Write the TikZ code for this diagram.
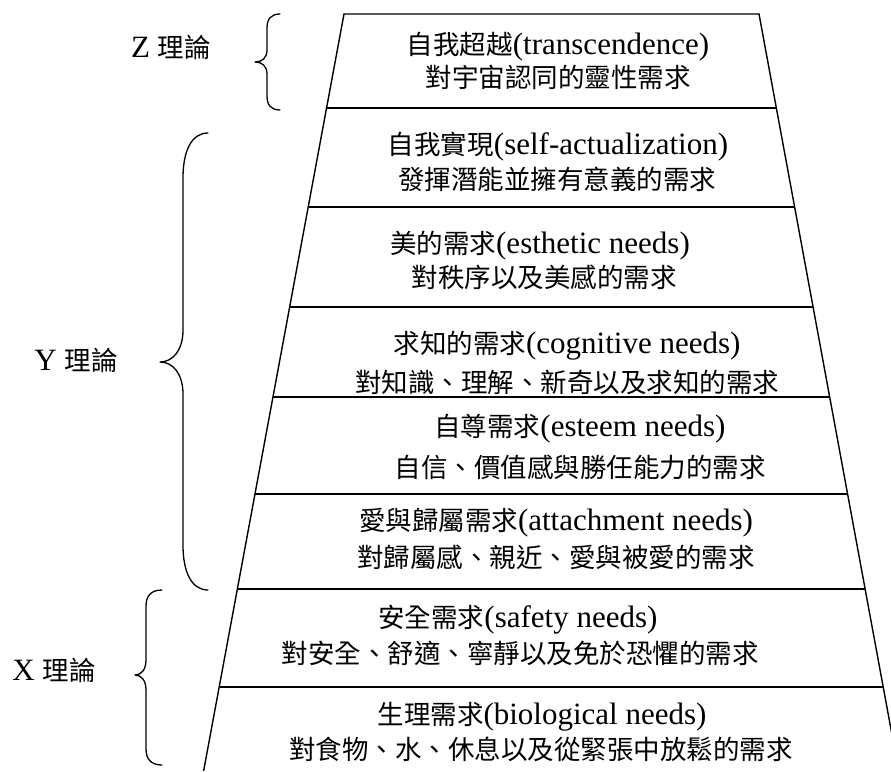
\documentclass[tikz,border=0pt]{standalone}
\usepackage{fontspec}
\setmainfont{Liberation Serif}[Scale=1.17]
\newfontfamily\cjkfont{Noto Sans CJK TC}
\newcommand\zht[1]{{\cjkfont #1}}
\begin{document}
\begin{tikzpicture}[x=1pt,y=-1pt,
  txt/.style={inner sep=0pt,font=\fontsize{26.5}{31}\selectfont},
  edge/.style={line width=1.4pt},
  tier/.style={line width=2pt},
  brace/.style={line width=1.3pt,line join=round,line cap=round}]
\useasboundingbox (0,0) rectangle (891,771);
\begin{scope}
\clip (0,0) rectangle (891,771);
% outer corners of the pyramid
\coordinate (TL) at (344,14);
\coordinate (TR) at (759,14);
\coordinate (BL) at (203.6,771);
\coordinate (BR) at (898.7,771);
% tier boundaries on the left and right edges
\coordinate (l1) at (326.6,108); \coordinate (r1) at (776.3,108);
\coordinate (l2) at (308.2,207); \coordinate (r2) at (794.6,207);
\coordinate (l3) at (289.6,307); \coordinate (r3) at (813.1,307);
\coordinate (l4) at (272.9,397); \coordinate (r4) at (829.7,397);
\coordinate (l5) at (255.0,494); \coordinate (r5) at (847.6,494);
\coordinate (l6) at (237.3,589); \coordinate (r6) at (865.1,589);
\coordinate (l7) at (219.2,687); \coordinate (r7) at (883.2,687);
\draw[edge] (BL) -- (TL) -- (TR) -- (BR);
\foreach \i in {1,...,7} \draw[tier] (l\i) -- (r\i);
\end{scope}

% tier texts
\node[txt] (t1a) at (558,47)  {\zht{自我超越}(transcendence)};
\node[txt] (t1b) at (558,77)  {\zht{對宇宙認同的靈性需求}};
\node[txt] (t2a) at (558,147) {\zht{自我實現}(self-actualization)};
\node[txt] (t2b) at (557,179) {\zht{發揮潛能並擁有意義的需求}};
\node[txt] (t3a) at (540,246) {\zht{美的需求}(esthetic needs)};
\node[txt] (t3b) at (544,277) {\zht{對秩序以及美感的需求}};
\node[txt] (t4a) at (567,346) {\zht{求知的需求}(cognitive needs)};
\node[txt] (t4b) at (567,382) {\zht{對知識、理解、新奇以及求知的需求}};
\node[txt] (t5a) at (580,429) {\zht{自尊需求}(esteem needs)};
\node[txt] (t5b) at (580,467) {\zht{自信、價值感與勝任能力的需求}};
\node[txt] (t6a) at (556,523) {\zht{愛與歸屬需求}(attachment needs)};
\node[txt] (t6b) at (556,557) {\zht{對歸屬感、親近、愛與被愛的需求}};
\node[txt] (t7a) at (518,620) {\zht{安全需求}(safety needs)};
\node[txt] (t7b) at (520,653) {\zht{對安全、舒適、寧靜以及免於恐懼的需求}};
\node[txt] (t8a) at (542,717) {\zht{生理需求}(biological needs)};
\node[txt] (t8b) at (541,749) {\zht{對食物、水、休息以及從緊張中放鬆的需求}};

% theory labels
\node[txt] (z) at (171,47)  {Z \zht{理論}};
\node[txt] (y) at (76,360)  {Y \zht{理論}};
\node[txt] (x) at (54,670)  {X \zht{理論}};

% braces
\draw[brace] (280,14) .. controls (271,14) and (267,19) .. (267,28) -- (267,50)
  .. controls (267,58) and (262,62) .. (255,62)
  .. controls (262,62) and (267,66) .. (267,74) -- (267,96)
  .. controls (267,105) and (271,110) .. (280,110);
\draw[brace] (208,133) .. controls (192,133) and (183,150) .. (183,178) -- (183,330)
  .. controls (183,350) and (173,362) .. (160,362)
  .. controls (173,362) and (183,374) .. (183,394) -- (183,545)
  .. controls (183,573) and (192,590) .. (208,590);
\draw[brace] (162,590) .. controls (151,590) and (146,596) .. (146,606) -- (146,660)
  .. controls (146,670) and (141,675) .. (135,675)
  .. controls (141,675) and (146,680) .. (146,690) -- (146,749)
  .. controls (146,759) and (151,765) .. (162,765);
\end{tikzpicture}
\end{document}
